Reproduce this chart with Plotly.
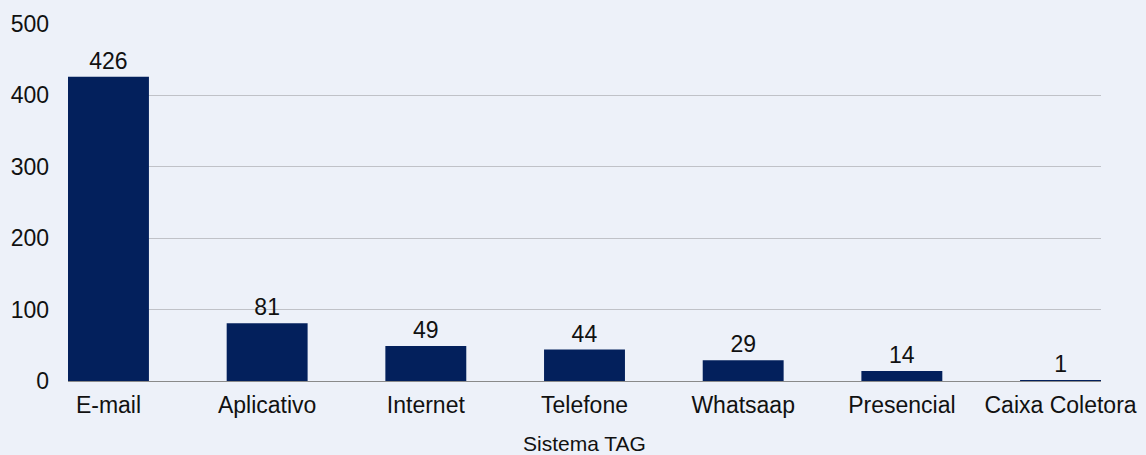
import plotly.graph_objects as go

categories = ["E-mail", "Aplicativo", "Internet", "Telefone", "Whatsaap", "Presencial", "Caixa Coletora"]
values = [426, 81, 49, 44, 29, 14, 1]
y_ticks = [0, 100, 200, 300, 400, 500]

fig = go.Figure(go.Bar(
    x=categories, y=values,
    width=0.51,
    marker=dict(color="#03205c", line=dict(width=0)),
    text=[str(v) for v in values], textposition="outside",
    textfont=dict(size=23, color="#111111", family="Liberation Sans, Arial, sans-serif"),
    cliponaxis=False,
))

fig.update_layout(
    width=1146, height=455,
    margin=dict(l=68, r=45, t=24, b=74),
    paper_bgcolor="#edf1f9",
    plot_bgcolor="rgba(0,0,0,0)",
    showlegend=False,
    font=dict(family="Liberation Sans, Arial, sans-serif", color="#111111"),
    xaxis=dict(
        title=dict(text="Sistema TAG", font=dict(size=21), standoff=22),
        tickfont=dict(size=23), showgrid=False, automargin=False,
        range=[-0.255, 6.255],
        showline=True, linecolor="#8a8a8a", linewidth=1,
        ticks="", ticklen=0, ticklabelstandoff=3,
    ),
    yaxis=dict(
        range=[0, 500], tickvals=y_ticks, tickfont=dict(size=23),
        showgrid=True, gridcolor="#c0c2c8", gridwidth=1, automargin=False,
        zeroline=False, ticks="", ticklabelstandoff=18,
    ),
)

fig.write_html("out.html")
